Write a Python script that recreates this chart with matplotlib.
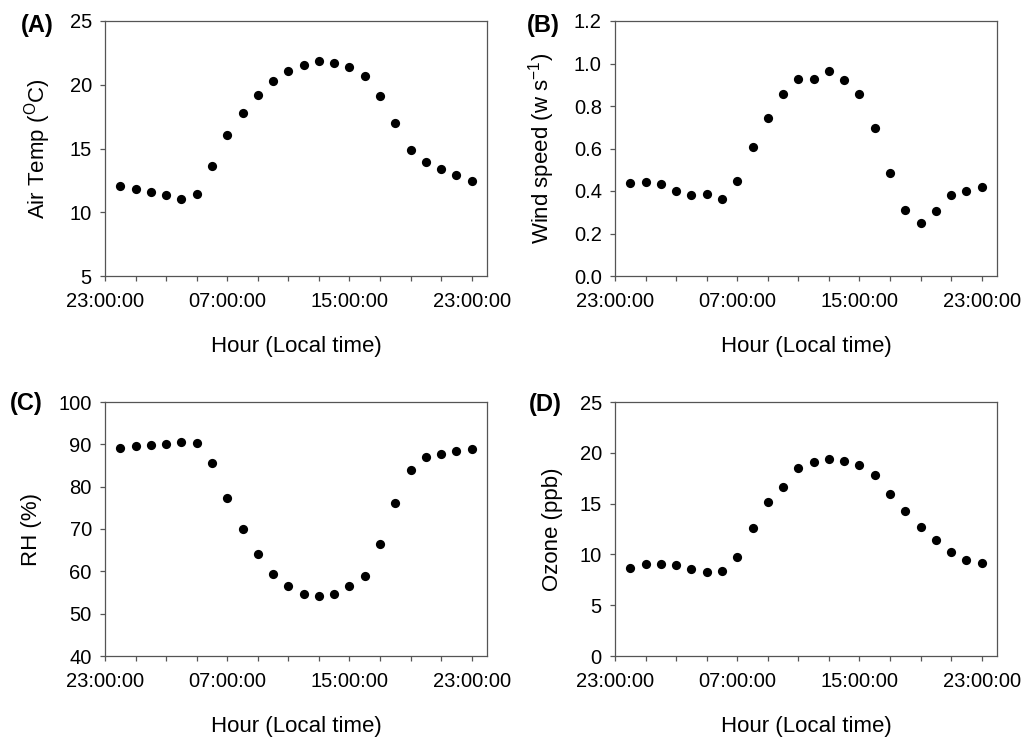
import matplotlib
matplotlib.use("Agg")
import matplotlib.pyplot as plt
import numpy as np

plt.rcParams['font.family'] = ['Liberation Sans', 'DejaVu Sans']
plt.rcParams['mathtext.fontset'] = 'custom'
plt.rcParams['mathtext.rm'] = 'Liberation Sans'
plt.rcParams['mathtext.it'] = 'Liberation Sans'

# hours of day (0 = 00:00 ... 23 = 23:00); axis starts at 23:00 previous day (-1)
hours = list(range(0, 24))
tick_positions = list(range(-1, 24, 2))
tick_labels_major = {-1: "23:00:00", 7: "07:00:00", 15: "15:00:00", 23: "23:00:00"}

air_temp = [12.08, 11.82, 11.61, 11.33, 11.07, 11.46, 13.63, 16.06, 17.76, 19.17,
            20.32, 21.05, 21.58, 21.84, 21.71, 21.37, 20.66, 19.14, 17.03, 14.91,
            13.92, 13.39, 12.90, 12.48]
wind_speed = [0.439, 0.444, 0.433, 0.402, 0.383, 0.387, 0.361, 0.449, 0.607, 0.744,
              0.856, 0.927, 0.929, 0.966, 0.924, 0.856, 0.696, 0.485, 0.312, 0.249,
              0.304, 0.381, 0.398, 0.420]
rh = [89.13, 89.53, 89.76, 90.16, 90.55, 90.24, 85.51, 77.32, 70.08, 64.09,
      59.37, 56.46, 54.72, 54.09, 54.72, 56.46, 58.98, 66.38, 76.06, 83.94,
      86.93, 87.64, 88.35, 88.82]
ozone = [8.69, 9.02, 9.09, 8.96, 8.56, 8.23, 8.40, 9.74, 12.63, 15.19,
         16.63, 18.47, 19.06, 19.42, 19.23, 18.80, 17.78, 15.94, 14.30, 12.73,
         11.45, 10.20, 9.42, 9.15]

panels = [
    ("(A)", air_temp, r"Air Temp ($^{\mathrm{O}}$C)", (5, 25), np.arange(5, 26, 5), "{:.0f}",
     [105/1032, 1 - 276/740, 382/1032, 255/740], (-0.178, 0.984)),
    ("(B)", wind_speed, r"Wind speed (w s$^{\mathrm{-1}}$)", (0, 1.2), np.arange(0, 1.21, 0.2), "{:.1f}",
     [615/1032, 1 - 276/740, 382/1032, 255/740], (-0.188, 0.984)),
    ("(C)", rh, "RH (%)", (40, 100), np.arange(40, 101, 10), "{:.0f}",
     [105/1032, 1 - 656/740, 382/1032, 254/740], (-0.207, 0.995)),
    ("(D)", ozone, "Ozone (ppb)", (0, 25), np.arange(0, 26, 5), "{:.0f}",
     [615/1032, 1 - 656/740, 382/1032, 254/740], (-0.183, 0.99)),
]

fig = plt.figure(figsize=(10.32, 7.40), dpi=100)
fs_tick = 14.5
fs_label = 16
spine_color = "#555555"
for label, vals, ylab, ylim, yticks, fmt, pos, lpos in panels:
    ax = fig.add_axes(pos)
    ax.scatter(hours, vals, s=44, color="black", zorder=3, linewidths=0)
    ax.set_xlim(-1, 24)
    ax.set_ylim(*ylim)
    ax.set_xticks(tick_positions)
    ax.set_xticklabels([tick_labels_major.get(t, "") for t in tick_positions])
    ax.set_yticks(yticks)
    ax.set_yticklabels([fmt.format(v) for v in yticks])
    for sp in ax.spines.values():
        sp.set_color(spine_color)
        sp.set_linewidth(0.9)
    ax.tick_params(direction="out", length=3.5, width=0.9, color=spine_color,
                   labelsize=fs_tick)
    ax.tick_params(axis="x", pad=8)
    ax.tick_params(axis="y", pad=6)
    ax.set_xlabel("Hour (Local time)", fontsize=fs_label, labelpad=18)
    ax.set_ylabel(ylab, fontsize=fs_label, labelpad=12)
    ax.text(lpos[0], lpos[1], label, transform=ax.transAxes, fontsize=17,
            fontweight="bold", ha="center", va="center")

fig.savefig("out.png", dpi=100)
